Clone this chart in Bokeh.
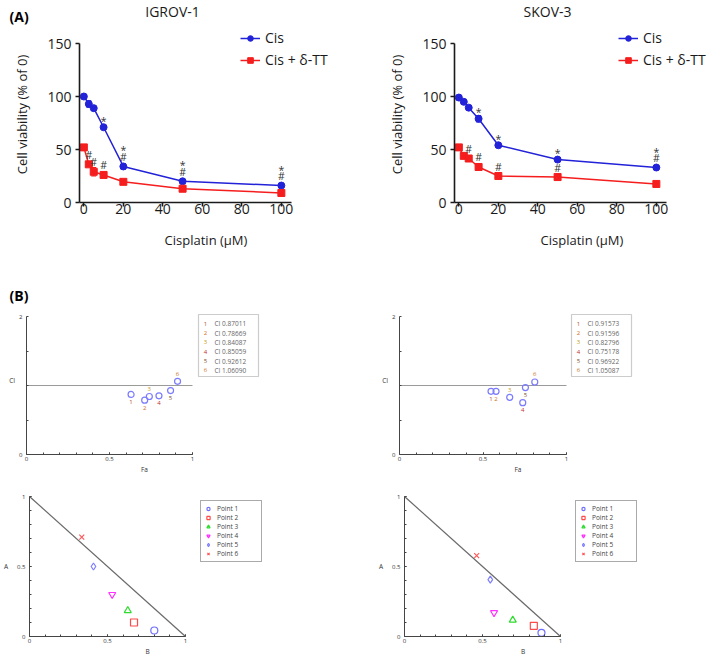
from bokeh.plotting import figure
from bokeh.layouts import column, row
from bokeh.models import (ColumnDataSource, Legend, LegendItem, Label, LabelSet, Whisker,
                          TeeHead, FixedTicker, Slope, BoxAnnotation, Range1d)
from bokeh.core.properties import value
from bokeh.embed import file_html
from bokeh.resources import INLINE

# ---------------- data ----------------
doses = [0, 2.5, 5, 10, 20, 50, 100]

igrov_cis = [100, 93, 89, 71, 34, 20, 16]
igrov_cis_err = [2, 3, 2, 1.5, 2.5, 1.5, 1.5]
igrov_comb = [52, 36, 29, 26, 19.5, 13, 9]
igrov_comb_err = [2, 2, 4, 1.5, 1.5, 1, 1]
igrov_star_cis = [10, 20, 50, 100]
igrov_hash_cis = [20, 50, 100]
igrov_hash_comb = [2.5, 5, 10]

skov_cis = [99, 95, 89.5, 79, 54, 40.5, 33]
skov_cis_err = [2, 1.5, 1.5, 3, 1.5, 1.5, 1.5]
skov_comb = [52, 44, 41.5, 33.5, 25, 24, 17.5]
skov_comb_err = [2, 1.5, 1.5, 2, 1, 1, 1]
skov_star_cis = [10, 20, 50, 100]
skov_hash_cis = [100]
skov_hash_comb = [5, 10, 20, 50]

point_ids = ["1", "2", "3", "4", "5", "6"]
igrov_fa = [0.63, 0.712, 0.74, 0.798, 0.868, 0.91]
igrov_ci = [0.87011, 0.78669, 0.84087, 0.85059, 0.92612, 1.06090]
skov_fa = [0.548, 0.578, 0.66, 0.738, 0.754, 0.81]
skov_ci = [0.91573, 0.91596, 0.82796, 0.75178, 0.96922, 1.05087]
ci_additive = 1.0
fa_span = [0, 1]

igrov_iso_b = [0.80, 0.67, 0.63, 0.53, 0.41, 0.335]
igrov_iso_a = [0.043, 0.10, 0.185, 0.30, 0.50, 0.71]
skov_iso_b = [0.878, 0.829, 0.694, 0.574, 0.55, 0.4625]
skov_iso_a = [0.026, 0.076, 0.117, 0.17, 0.406, 0.578]
iso_labels = ["Point 1", "Point 2", "Point 3", "Point 4", "Point 5", "Point 6"]

# ---------------- styles ----------------
FONT = "Open Sans"
BLUE = "#2222d8"
RED = "#f51d1d"
AX = "#1a1a1a"
BAX = "#454545"
NUM_COLORS = ["#b0502a", "#d07020", "#c8a020", "#c03030", "#805030", "#c87020"]
ISO_MARKERS = ["circle", "square", "triangle", "inverted_triangle", "diamond", "x"]
ISO_COLORS = ["#6f6fff", "#ff4a4a", "#2fdc2f", "#ff2fff", "#7f7fff", "#ff5a5a"]
CI_SIDE_IGROV = [1, 1, -1, 1, 1, -1]   # 1 = below, -1 = above
CI_SIDE_SKOV = [1, 1, -1, 1, 1, -1]


def blank_strip(width, height):
    p = figure(width=width, height=height, x_range=Range1d(0, width), y_range=Range1d(0, height),
               min_border=0, output_backend="svg", toolbar_location=None, tools="")
    p.axis.visible = False
    p.grid.visible = False
    p.outline_line_color = None
    return p


def dose_panel(cis, cis_err, comb, comb_err, star_cis, hash_cis, hash_comb,
               width, left, fw, legend_x):
    fh, top, bottom = 176, 0, 60
    x_end = -2.2 + fw / 1.975
    p = figure(width=width, height=top + fh + bottom, frame_width=fw, frame_height=fh,
               min_border_left=left, min_border_right=width - left - fw,
               min_border_top=top, min_border_bottom=bottom,
               x_range=Range1d(-2.2, x_end), y_range=Range1d(0, fh / 1.06),
               output_backend="svg", toolbar_location=None, tools="")
    p.outline_line_color = None
    p.grid.visible = False
    p.background_fill_color = "white"
    p.border_fill_color = "white"

    p.xaxis.bounds = (-2.2, 105)
    p.yaxis.bounds = (0, 150)
    p.xaxis.ticker = FixedTicker(ticks=[0, 20, 40, 60, 80, 100])
    p.yaxis.ticker = FixedTicker(ticks=[0, 50, 100, 150])
    for ax in (p.xaxis[0], p.yaxis[0]):
        ax.axis_line_color = AX
        ax.axis_line_width = 1.6
        ax.major_tick_line_color = AX
        ax.major_tick_line_width = 1.6
        ax.major_tick_out = 4
        ax.major_tick_in = 0
        ax.minor_tick_line_color = None
        ax.major_label_text_font = FONT
        ax.major_label_text_font_size = "14px"
        ax.major_label_text_color = AX
        ax.axis_label_text_font = FONT
        ax.axis_label_text_font_size = "13px"
        ax.axis_label_text_font_style = "normal"
        ax.axis_label_text_color = AX
    p.yaxis.axis_label = "Cell viability (% of 0)"
    p.yaxis.major_label_standoff = 4
    p.yaxis.axis_label_standoff = 13
    p.xaxis.axis_label = "Cisplatin (μM)"
    p.xaxis.major_label_standoff = -3
    p.xaxis.axis_label_standoff = 14

    # error bars
    for vals, errs, col in ((cis, cis_err, BLUE), (comb, comb_err, RED)):
        src = ColumnDataSource(dict(x=doses, up=[v + e for v, e in zip(vals, errs)],
                                    lo=[v - e for v, e in zip(vals, errs)]))
        p.add_layout(Whisker(base="x", upper="up", lower="lo", source=src, dimension="height",
                             line_color=col, line_width=1.2,
                             upper_head=TeeHead(size=5, line_color=col, line_width=1.2),
                             lower_head=TeeHead(size=5, line_color=col, line_width=1.2)))

    l1 = p.line(doses, cis, line_color=BLUE, line_width=1.5)
    s1 = p.scatter(doses, cis, marker="circle", size=7, fill_color=BLUE, line_color=BLUE)
    l2 = p.line(doses, comb, line_color=RED, line_width=1.5)
    s2 = p.scatter(doses, comb, marker="square", size=7, fill_color=RED, line_color=RED)

    # significance marks
    step = 9.5
    tx, ty, tt, toff = [], [], [], []
    for d in hash_cis:
        tx.append(d); ty.append(cis[doses.index(d)]); tt.append("#"); toff.append(-step)
    for d in star_cis:
        lvl = 2 if d in hash_cis else 1
        tx.append(d); ty.append(cis[doses.index(d)]); tt.append("*"); toff.append(-step * lvl + 3)
    for d in hash_comb:
        tx.append(d); ty.append(comb[doses.index(d)]); tt.append("#"); toff.append(-step)
    p.text(x=tx, y=ty, text=tt, y_offset=toff, text_font=value(FONT), text_font_size="10.5px",
           text_align="center", text_baseline="middle", text_color="#333333")

    legend = Legend(items=[LegendItem(label="Cis", renderers=[l1, s1]),
                           LegendItem(label="Cis + δ-TT", renderers=[l2, s2])],
                    location=(legend_x, 133),
                    border_line_color=None, background_fill_alpha=0, padding=0, margin=0,
                    spacing=3, glyph_width=20, glyph_height=14, label_height=14,
                    label_standoff=5, label_text_font=FONT, label_text_font_size="14px",
                    label_text_color=AX)
    p.add_layout(legend)
    return p


def style_small_axes(p, xlabel, ylabel, ylab_standoff):
    for ax in (p.xaxis[0], p.yaxis[0]):
        ax.axis_line_color = BAX
        ax.axis_line_width = 1
        ax.major_tick_line_color = BAX
        ax.minor_tick_line_color = BAX
        ax.major_tick_in = 2
        ax.major_tick_out = 0
        ax.minor_tick_in = 2
        ax.minor_tick_out = 0
        ax.major_label_text_font = FONT
        ax.major_label_text_font_size = "6px"
        ax.major_label_text_color = "#333333"
        ax.axis_label_text_font = FONT
        ax.axis_label_text_font_size = "6.5px"
        ax.axis_label_text_font_style = "normal"
        ax.axis_label_text_color = "#333333"
    p.xaxis.major_label_standoff = 2
    p.xaxis.axis_label_standoff = 1
    p.yaxis.major_label_standoff = 4
    p.yaxis.axis_label_standoff = ylab_standoff
    p.xaxis.axis_label = xlabel
    p.yaxis.axis_label = ylabel
    if "axis_label_orientation" in p.yaxis[0].properties():
        p.yaxis.axis_label_orientation = "horizontal"


def ci_panel(fa, ci, sides, width, left, unit_px, fw):
    fh, top, bottom = 148, 0, 24
    p = figure(width=width, height=top + fh + bottom, frame_width=fw, frame_height=fh,
               min_border_left=left, min_border_right=width - left - fw,
               min_border_top=top, min_border_bottom=bottom,
               x_range=Range1d(0, fw / unit_px), y_range=Range1d(0, fh / 69.0),
               output_backend="svg", toolbar_location=None, tools="")
    p.outline_line_color = None
    p.grid.visible = False
    p.xaxis.bounds = (0, 1)
    p.yaxis.bounds = (0, 2)
    p.xaxis.ticker = FixedTicker(ticks=[0, 0.5, 1], minor_ticks=[i / 10 for i in range(11)])
    p.yaxis.ticker = FixedTicker(ticks=[0, 2], minor_ticks=[0.5, 1, 1.5])
    p.xaxis.major_label_overrides = {0: "0", 0.5: "0.5", 1: "1"}
    p.yaxis.major_label_overrides = {0: "0", 2: "2"}
    style_small_axes(p, "Fa", "CI", 1)

    p.segment(x0=fa_span[0], y0=ci_additive, x1=fa_span[1], y1=ci_additive,
              line_color="#9a9a9a", line_width=1)
    p.scatter(fa, ci, marker="circle", size=6, fill_color=None, line_color="#7b7bff",
              line_width=1.2)
    p.text(x=fa, y=ci, text=point_ids, y_offset=[s * 7.5 for s in sides],
           text_color=NUM_COLORS, text_font=value(FONT), text_font_size="6px",
           text_align="center", text_baseline="middle")

    # CI legend box
    p.add_layout(BoxAnnotation(left=172, right=232, top=140, bottom=78,
                               left_units="screen", right_units="screen",
                               top_units="screen", bottom_units="screen",
                               fill_color="white", fill_alpha=1,
                               line_color="#555555", line_width=1.2))
    ys = [130.7 - 9.3 * i for i in range(len(ci))]
    src = ColumnDataSource(dict(nx=[179] * len(ci), tx=[188] * len(ci), y=ys,
                                num=point_ids, txt=[f"CI {v:.5f}" for v in ci],
                                col=NUM_COLORS))
    p.add_layout(LabelSet(x="nx", y="y", text="num", source=src, x_units="screen",
                          y_units="screen", text_color="col", text_font=value(FONT),
                          text_font_size="6px", text_align="center", text_baseline="middle"))
    p.add_layout(LabelSet(x="tx", y="y", text="txt", source=src, x_units="screen",
                          y_units="screen", text_color="#666666", text_font=value(FONT),
                          text_font_size="6.5px", text_align="left", text_baseline="middle"))
    return p


def iso_panel(b, a, width, left, fw):
    fh, top, bottom = 140, 18, 21
    p = figure(width=width, height=top + fh + bottom, frame_width=fw, frame_height=fh,
               min_border_left=left, min_border_right=width - left - fw,
               min_border_top=top, min_border_bottom=bottom,
               x_range=Range1d(0, fw / 156.0), y_range=Range1d(0, 1),
               output_backend="svg", toolbar_location=None, tools="")
    p.outline_line_color = None
    p.grid.visible = False
    p.xaxis.bounds = (0, 1)
    p.yaxis.bounds = (0, 1)
    ticks = [i / 10 for i in range(11)]
    p.xaxis.ticker = FixedTicker(ticks=[0, 0.5, 1], minor_ticks=ticks)
    p.yaxis.ticker = FixedTicker(ticks=[0, 0.5, 1], minor_ticks=ticks)
    p.xaxis.major_label_overrides = {0: "0", 0.5: "0.5", 1: "1"}
    p.yaxis.major_label_overrides = {0: "0", 0.5: "0.5", 1: "1"}
    style_small_axes(p, "B", "A", 6)

    p.add_layout(Slope(gradient=-1, y_intercept=1, line_color="#6a6a6a", line_width=1.2))
    items = []
    for i in range(len(b)):
        r = p.scatter([b[i]], [a[i]], marker=ISO_MARKERS[i], size=7, fill_color=None,
                      line_color=ISO_COLORS[i], line_width=1.2)
        items.append(LegendItem(label=iso_labels[i], renderers=[r]))
    p.add_layout(Legend(items=items, location=(171, 74), padding=3, spacing=0, margin=0,
                        glyph_width=8, glyph_height=9, label_height=9, label_width=41,
                        label_standoff=5, label_text_font=FONT, label_text_font_size="6.5px",
                        label_text_color="#444444", border_line_color="#555555",
                        border_line_width=1.2, background_fill_color="white",
                        background_fill_alpha=1))
    return p


# header strip with panel letter and titles
head = blank_strip(709, 26)
head.add_layout(Label(x=9, y=10, x_units="screen", y_units="screen", text="(A)",
                      text_font=FONT, text_font_size="14px", text_font_style="bold",
                      text_align="left", text_baseline="middle", text_color="black"))
for tx_, title in ((172, "IGROV-1"), (547, "SKOV-3")):
    head.add_layout(Label(x=tx_, y=15, x_units="screen", y_units="screen", text=title,
                          text_font=FONT, text_font_size="14px", text_align="center",
                          text_baseline="middle", text_color=AX))

a1 = dose_panel(igrov_cis, igrov_cis_err, igrov_comb, igrov_comb_err,
                igrov_star_cis, igrov_hash_cis, igrov_hash_comb, 363, 79, 253, 161)
a2 = dose_panel(skov_cis, skov_cis_err, skov_comb, skov_comb_err,
                skov_star_cis, skov_hash_cis, skov_hash_comb, 346, 91, 255, 164)

mid = blank_strip(709, 44)
mid.add_layout(Label(x=9, y=11, x_units="screen", y_units="screen", text="(B)",
                     text_font=FONT, text_font_size="14px", text_font_style="bold",
                     text_align="left", text_baseline="middle", text_color="black"))

b1 = ci_panel(igrov_fa, igrov_ci, CI_SIDE_IGROV, 363, 26, 166.0, 236)
b2 = ci_panel(skov_fa, skov_ci, CI_SIDE_SKOV, 346, 36, 167.0, 237)
c1 = iso_panel(igrov_iso_b, igrov_iso_a, 363, 26, 236)
c2 = iso_panel(skov_iso_b, skov_iso_a, 346, 38, 237)

layout = column(head, row(a1, a2), mid, row(b1, b2), row(c1, c2))
open("out.html", "w").write(file_html(layout, INLINE))
